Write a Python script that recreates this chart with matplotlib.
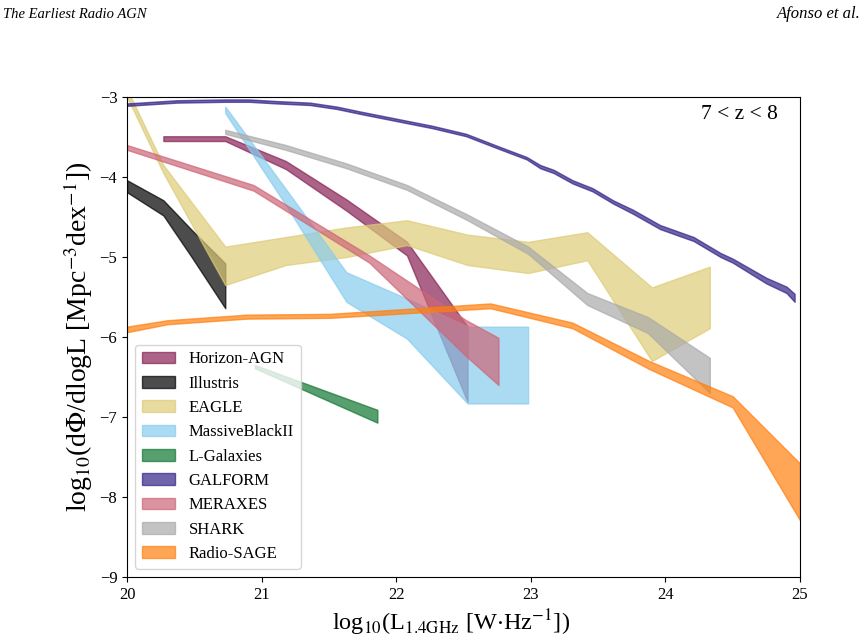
"""Radio luminosity functions at 7 < z < 8 from several simulations."""

import matplotlib

matplotlib.use("Agg")
import matplotlib.pyplot as plt

plt.rcParams["font.family"] = ["Liberation Serif", "DejaVu Serif"]
plt.rcParams["mathtext.fontset"] = "stix"
plt.rcParams["axes.unicode_minus"] = True

# ---- data (log10 L_1.4GHz, upper / lower log10 phi) ----
horizon_x = [20.27, 20.73, 21.18, 21.63, 22.08, 22.53]
horizon_hi = [-3.49, -3.49, -3.80, -4.28, -4.81, -5.87]
horizon_lo = [-3.55, -3.55, -3.90, -4.42, -4.98, -6.81]

illustris_x = [20.0, 20.27, 20.48, 20.73]
illustris_hi = [-4.04, -4.29, -4.66, -5.08]
illustris_lo = [-4.19, -4.48, -5.00, -5.64]

eagle_x = [20.0, 20.27, 20.73, 21.18, 21.63, 22.08, 22.53, 22.98, 23.42, 23.90, 24.33]
eagle_hi = [-2.90, -3.85, -4.87, -4.75, -4.63, -4.54, -4.72, -4.81, -4.69, -5.38, -5.12]
eagle_lo = [-3.00, -3.95, -5.35, -5.10, -5.00, -4.85, -5.10, -5.20, -5.04, -6.30, -5.89]

mbii_x = [20.73, 21.18, 21.63, 22.08, 22.53, 22.98]
mbii_hi = [-3.12, -4.15, -5.19, -5.52, -5.87, -5.87]
mbii_lo = [-3.20, -4.35, -5.56, -6.02, -6.83, -6.83]

lgal_x = [20.95, 21.86]
lgal_hi = [-6.35, -6.91]
lgal_lo = [-6.39, -7.07]

galform_x = [20.0, 20.37, 20.73, 20.91, 21.11, 21.36, 21.56, 21.73, 22.03, 22.27,
             22.52, 22.75, 22.97, 23.07, 23.17, 23.31, 23.46, 23.61, 23.76, 23.96,
             24.21, 24.41, 24.50, 24.75, 24.90, 24.96]
galform_hi = [-3.08, -3.04, -3.03, -3.03, -3.05, -3.07, -3.12, -3.18, -3.28, -3.36,
              -3.46, -3.61, -3.75, -3.85, -3.91, -4.04, -4.14, -4.29, -4.41, -4.60,
              -4.75, -4.95, -5.02, -5.26, -5.37, -5.46]
galform_lo = [-3.11, -3.07, -3.06, -3.06, -3.08, -3.10, -3.15, -3.21, -3.31, -3.39,
              -3.49, -3.64, -3.78, -3.89, -3.95, -4.08, -4.18, -4.33, -4.46, -4.65,
              -4.80, -5.00, -5.07, -5.33, -5.45, -5.56]

meraxes_x = [20.0, 20.94, 21.80, 22.52, 22.76]
meraxes_hi = [-3.60, -4.10, -4.98, -5.79, -6.01]
meraxes_lo = [-3.66, -4.17, -5.07, -6.24, -6.60]

shark_x = [20.73, 21.18, 21.63, 22.08, 22.53, 22.98, 23.42, 23.87, 24.33]
shark_hi = [-3.41, -3.60, -3.83, -4.10, -4.47, -4.87, -5.45, -5.75, -6.26]
shark_lo = [-3.46, -3.66, -3.89, -4.16, -4.54, -4.96, -5.60, -5.95, -6.70]

sage_x = [20.0, 20.30, 20.89, 21.51, 22.70, 23.31, 23.88, 24.50, 25.0]
sage_hi = [-5.87, -5.79, -5.72, -5.71, -5.58, -5.82, -6.30, -6.74, -7.58]
sage_lo = [-5.94, -5.84, -5.77, -5.76, -5.64, -5.89, -6.40, -6.88, -8.29]

MODELS = [
    ("Horizon-AGN", "#882255", horizon_x, horizon_hi, horizon_lo),
    ("Illustris", "black", illustris_x, illustris_hi, illustris_lo),
    ("EAGLE", "#DDCC77", eagle_x, eagle_hi, eagle_lo),
    ("MassiveBlackII", "#88CCEE", mbii_x, mbii_hi, mbii_lo),
    ("L-Galaxies", "#117733", lgal_x, lgal_hi, lgal_lo),
    ("GALFORM", "#332288", galform_x, galform_hi, galform_lo),
    ("MERAXES", "#CC6677", meraxes_x, meraxes_hi, meraxes_lo),
    ("SHARK", "#AAAAAA", shark_x, shark_hi, shark_lo),
    ("Radio-SAGE", "#ff7f0e", sage_x, sage_hi, sage_lo),
]


def main() -> None:
    fig = plt.figure(figsize=(8.67, 6.43), dpi=100)
    ax = fig.add_axes([0.1465, 0.1026, 0.7762, 0.7465])

    for label, color, xs, hi, lo in MODELS:
        ax.fill_between(xs, lo, hi, color=color, alpha=0.7, label=label)

    ax.set_xlim(20, 25)
    ax.set_ylim(-9, -3)
    ax.set_xticks([20, 21, 22, 23, 24, 25])
    ax.set_yticks([-9, -8, -7, -6, -5, -4, -3])
    ax.tick_params(labelsize=12)

    ax.set_xlabel(r"log$_{10}$(L$_{1.4\mathrm{GHz}}$ [W$\cdot$Hz$^{-1}$])", fontsize=17.5)
    ax.xaxis.set_label_coords(0.482, -0.063)
    ax.set_ylabel(r"log$_{10}$(d$\Phi$/dlogL [Mpc$^{-3}$dex$^{-1}$])", fontsize=20,
                  labelpad=3)

    ax.text(0.967, 0.963, "7 < z < 8", transform=ax.transAxes, ha="right", va="center",
            fontsize=15.5)

    ax.legend(loc="lower left", fontsize=12)

    fig.text(0.004, 0.978, "The Earliest Radio AGN", style="italic", fontsize=10.5,
             ha="left", va="center")
    fig.text(0.993, 0.978, "Afonso et al.", style="italic", fontsize=12,
             ha="right", va="center")

    fig.savefig("out.png", dpi=100)


if __name__ == "__main__":
    main()
